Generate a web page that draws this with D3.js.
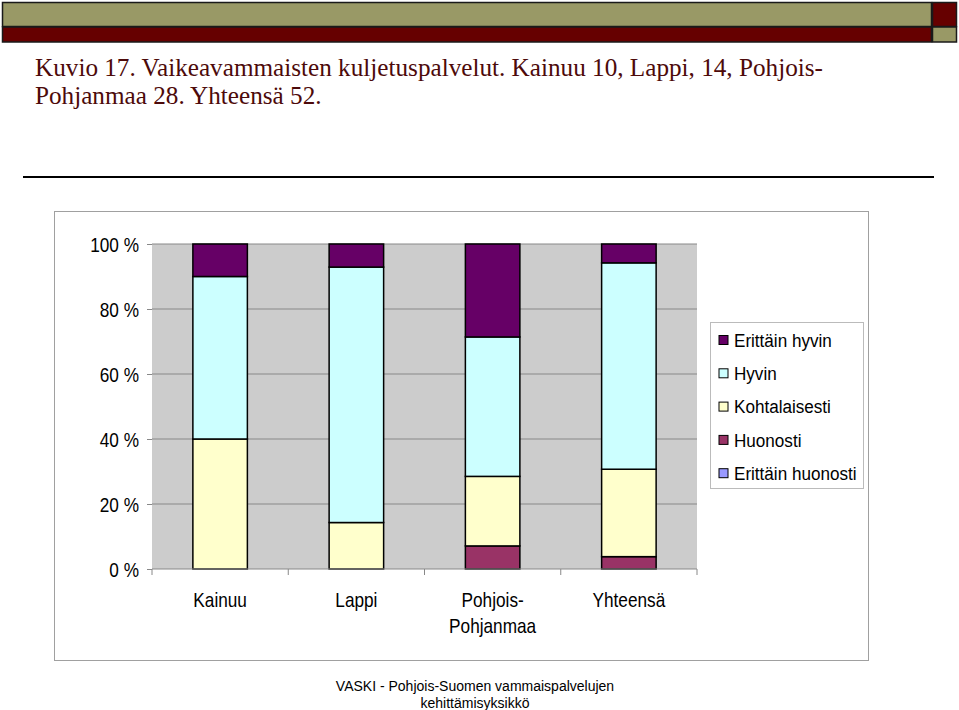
<!DOCTYPE html>
<html>
<head>
<meta charset="utf-8">
<script src="https://cdn.jsdelivr.net/npm/d3@7"></script>
<style>
  html, body { margin: 0; padding: 0; background: #ffffff; }
  svg { display: block; }
</style>
</head>
<body>
<svg id="chart" width="959" height="710"></svg>
<script>
// ---- data ----
const categories = ["Kainuu", "Lappi", "Pohjois-Pohjanmaa", "Yhteensä"];
const categoryLines = [["Kainuu"], ["Lappi"], ["Pohjois-", "Pohjanmaa"], ["Yhteensä"]];
const seriesNames = ["Erittäin huonosti", "Huonosti", "Kohtalaisesti", "Hyvin", "Erittäin hyvin"];
const erittainHuonosti = [0, 0, 0, 0];
const huonosti = [0, 0, 7.1, 3.8];
const kohtalaisesti = [40, 14.3, 21.4, 26.9];
const hyvin = [50, 78.6, 42.9, 63.5];
const erittainHyvin = [10, 7.1, 28.6, 5.8];
const yTicks = [0, 20, 40, 60, 80, 100];
const legendOrder = ["Erittäin hyvin", "Hyvin", "Kohtalaisesti", "Huonosti", "Erittäin huonosti"];
const titleLines = ["Kuvio 17. Vaikeavammaisten kuljetuspalvelut. Kainuu 10, Lappi, 14, Pohjois-",
                    "Pohjanmaa 28. Yhteensä 52."];
const footerLines = ["VASKI - Pohjois-Suomen vammaispalvelujen", "kehittämisyksikkö"];

const colors = {
  "Erittäin huonosti": "#9999ff",
  "Huonosti": "#993366",
  "Kohtalaisesti": "#ffffcc",
  "Hyvin": "#ccffff",
  "Erittäin hyvin": "#660066"
};

const sans = "'Liberation Sans', Arial, sans-serif";
const svg = d3.select("#chart");

// ---- header bars ----
svg.append("rect").attr("x", 2.5).attr("y", 2.5).attr("width", 929).attr("height", 24)
  .attr("fill", "#999966").attr("stroke", "#1a1a1a").attr("stroke-width", 1.5);
svg.append("rect").attr("x", 932.5).attr("y", 2.5).attr("width", 24).attr("height", 24)
  .attr("fill", "#660000").attr("stroke", "#1a1a1a").attr("stroke-width", 1.5);
svg.append("rect").attr("x", 2.5).attr("y", 27).attr("width", 929).attr("height", 15)
  .attr("fill", "#660000").attr("stroke", "#1a1a1a").attr("stroke-width", 1.5);
svg.append("rect").attr("x", 932.5).attr("y", 27).attr("width", 24).attr("height", 15)
  .attr("fill", "#999966").attr("stroke", "#1a1a1a").attr("stroke-width", 1.5);

// ---- title ----
svg.append("g").selectAll("text").data(titleLines).join("text")
  .attr("x", 35).attr("y", (d, i) => 76 + i * 28)
  .attr("font-family", "'Liberation Serif', 'Times New Roman', serif")
  .attr("font-size", 25.2).attr("fill", "#4d0a0a")
  .text(d => d);

// rule line
svg.append("line").attr("x1", 23).attr("x2", 934).attr("y1", 177).attr("y2", 177)
  .attr("stroke", "#000").attr("stroke-width", 2);

// ---- chart frame ----
svg.append("rect").attr("x", 54.5).attr("y", 211.5).attr("width", 814).attr("height", 449)
  .attr("fill", "#fff").attr("stroke", "#a0a0a0").attr("stroke-width", 1);

// ---- scales ----
const plotL = 152, plotR = 697, plotT = 244, plotB = 569;
const x = d3.scaleBand().domain(categories).range([plotL, plotR]).paddingInner(0.6).paddingOuter(0.3);
const xOuter = d3.scaleBand().domain(categories).range([plotL, plotR]);
const y = d3.scaleLinear().domain([0, 100]).range([plotB, plotT]);

// plot bg
svg.append("rect").attr("x", plotL).attr("y", plotT).attr("width", plotR - plotL).attr("height", plotB - plotT)
  .attr("fill", "#cccccc");

// grid
svg.append("g").selectAll("line").data(yTicks.filter(t => t > 0)).join("line")
  .attr("x1", plotL).attr("x2", plotR).attr("y1", d => y(d)).attr("y2", d => y(d))
  .attr("stroke", "#888888").attr("stroke-width", 1);

// ---- stack ----
const table = categories.map((c, i) => ({
  category: c,
  "Erittäin huonosti": erittainHuonosti[i],
  "Huonosti": huonosti[i],
  "Kohtalaisesti": kohtalaisesti[i],
  "Hyvin": hyvin[i],
  "Erittäin hyvin": erittainHyvin[i]
}));
const stacked = d3.stack().keys(seriesNames)(table);

svg.append("g").selectAll("g").data(stacked).join("g")
  .attr("fill", d => colors[d.key])
  .selectAll("rect").data(d => d.filter(p => p[1] - p[0] > 0)).join("rect")
  .attr("x", d => x(d.data.category))
  .attr("width", x.bandwidth())
  .attr("y", d => y(d[1]))
  .attr("height", d => y(d[0]) - y(d[1]))
  .attr("stroke", "#000").attr("stroke-width", 1.5);

// ---- axes ----
const yAxis = d3.axisLeft(y).tickValues(yTicks).tickFormat(d => d + " %").tickSize(5).tickPadding(8);
const gy = svg.append("g").attr("transform", `translate(${plotL},0)`).call(yAxis);
gy.select(".domain").remove();
gy.selectAll(".tick line").attr("stroke", "#888");
const ySx = 0.84;
gy.selectAll("text")
  .attr("font-family", sans).attr("font-size", 20.5).attr("fill", "#000")
  .attr("x", -13 / ySx).attr("dy", "0.36em")
  .attr("transform", `scale(${ySx},1)`);

// x axis line and ticks at category boundaries
svg.append("line").attr("x1", plotL).attr("x2", plotR).attr("y1", plotB).attr("y2", plotB)
  .attr("stroke", "#888").attr("stroke-width", 1);
const boundaries = categories.map(c => xOuter(c)).concat([plotR]);
svg.append("g").selectAll("line").data(boundaries).join("line")
  .attr("x1", d => d).attr("x2", d => d).attr("y1", plotB).attr("y2", plotB + 6)
  .attr("stroke", "#888");

// x labels
const xSx = 0.82;
const xl = svg.append("g").selectAll("g").data(categories).join("g")
  .attr("transform", d => `translate(${xOuter(d) + xOuter.bandwidth() / 2},0) scale(${xSx},1)`);
xl.each(function(d, i) {
  const g = d3.select(this);
  g.selectAll("text").data(categoryLines[i]).join("text")
    .attr("x", 0).attr("y", (l, j) => 607 + j * 26)
    .attr("text-anchor", "middle")
    .attr("font-family", sans).attr("font-size", 21).attr("fill", "#000")
    .text(l => l);
});

// ---- legend ----
svg.append("rect").attr("x", 710.5).attr("y", 322.5).attr("width", 153).attr("height", 166)
  .attr("fill", "#fff").attr("stroke", "#bbbbbb");
const lg = svg.append("g").selectAll("g").data(legendOrder).join("g")
  .attr("transform", (d, i) => `translate(719, ${340 + i * 33.3})`);
lg.append("rect").attr("x", 0).attr("y", -4.5).attr("width", 9).attr("height", 9)
  .attr("fill", d => colors[d]).attr("stroke", "#000").attr("stroke-width", 1);
lg.append("text").attr("x", 15 / 0.9).attr("y", 6.8)
  .attr("transform", "scale(0.9,1)")
  .attr("font-family", sans)
  .attr("font-size", 19).attr("fill", "#000").text(d => d);

// ---- footer ----
svg.append("g").selectAll("text").data(footerLines).join("text")
  .attr("x", 475).attr("y", (d, i) => 691 + i * 17)
  .attr("text-anchor", "middle")
  .attr("font-family", sans)
  .attr("font-size", 14).attr("fill", "#000").text(d => d);
</script>
</body>
</html>
